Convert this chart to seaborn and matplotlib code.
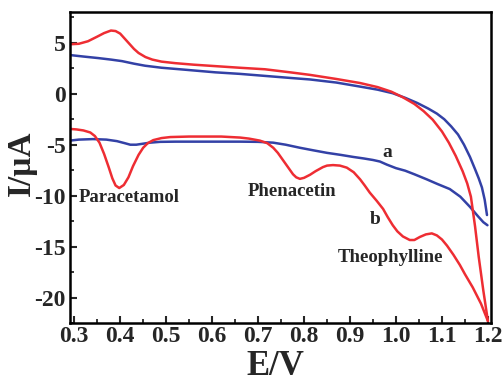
#%% bibliotecas
import pandas as pd
import seaborn as sns
import matplotlib.pyplot as plt
from matplotlib.ticker import MultipleLocator

#%% dados lidos do voltamograma (E em V, I em uA)
# curva a (azul) - varredura de ida e de volta
a_fwd_E = [0.29, 0.32, 0.352, 0.38, 0.404, 0.43, 0.454, 0.49, 0.535, 0.607,
           0.66, 0.715, 0.77, 0.813, 0.87, 0.922, 0.96, 0.993, 1.02, 1.046,
           1.07, 1.089, 1.105, 1.12, 1.135, 1.148, 1.161, 1.172, 1.18, 1.187,
           1.193, 1.198]
a_fwd_I = [3.8, 3.65, 3.5, 3.35, 3.2, 2.95, 2.75, 2.55, 2.38, 2.1,
           1.95, 1.75, 1.55, 1.4, 1.1, 0.7, 0.4, 0.05, -0.4, -0.9,
           -1.45, -1.95, -2.5, -3.2, -4.0, -5.0, -6.2, -7.4, -8.3, -9.2,
           -10.4, -11.9]
a_rev_E = [1.199, 1.19, 1.178, 1.161, 1.14, 1.117, 1.09, 1.067, 1.04, 1.02,
           1.0, 0.98, 0.965, 0.95, 0.93, 0.907, 0.88, 0.85, 0.82, 0.791,
           0.76, 0.733, 0.70, 0.661, 0.6, 0.559, 0.52, 0.487, 0.465, 0.45,
           0.435, 0.422, 0.41, 0.393, 0.37, 0.341, 0.31, 0.29]
a_rev_I = [-12.9, -12.6, -12.0, -11.1, -10.1, -9.35, -8.85, -8.4, -7.9, -7.55,
           -7.3, -6.95, -6.65, -6.5, -6.35, -6.2, -6.0, -5.8, -5.55, -5.3,
           -5.0, -4.8, -4.72, -4.7, -4.7, -4.7, -4.7, -4.72, -4.8, -4.9,
           -5.0, -5.0, -4.85, -4.65, -4.5, -4.45, -4.5, -4.6]

# curva b (vermelha)
b_fwd_E = [0.29, 0.31, 0.33, 0.35, 0.365, 0.38, 0.39, 0.40, 0.41, 0.42,
           0.43, 0.44, 0.455, 0.47, 0.49, 0.52, 0.56, 0.61, 0.66, 0.715,
           0.77, 0.813, 0.87, 0.922, 0.96, 0.99, 1.015, 1.04, 1.06, 1.08,
           1.10, 1.115, 1.13, 1.145, 1.155, 1.163, 1.172, 1.18, 1.19, 1.2]
b_fwd_I = [4.85, 4.9, 5.15, 5.6, 5.95, 6.2, 6.15, 5.9, 5.4, 4.9,
           4.4, 4.0, 3.6, 3.35, 3.15, 3.0, 2.85, 2.7, 2.55, 2.4,
           2.1, 1.85, 1.45, 1.05, 0.65, 0.2, -0.35, -1.0, -1.7, -2.55,
           -3.7, -4.8, -6.1, -7.6, -8.8, -10.1, -13.0, -16.0, -19.3, -22.3]
b_rev_E = [1.2, 1.185, 1.167, 1.15, 1.139, 1.125, 1.111, 1.1, 1.089, 1.078,
           1.065, 1.052, 1.04, 1.03, 1.015, 1.003, 0.993, 0.982, 0.972, 0.958,
           0.943, 0.932, 0.922, 0.908, 0.893, 0.878, 0.863, 0.85, 0.841, 0.825,
           0.813, 0.8, 0.791, 0.783, 0.776, 0.765, 0.754, 0.743, 0.733, 0.72,
           0.704, 0.68, 0.661, 0.62, 0.589, 0.55, 0.509, 0.49, 0.472, 0.46,
           0.45, 0.44, 0.428, 0.418, 0.408, 0.398, 0.39, 0.383, 0.375, 0.365,
           0.355, 0.345, 0.335, 0.32, 0.305, 0.29]
b_rev_I = [-22.3, -20.6, -19.0, -17.7, -16.8, -15.8, -14.9, -14.3, -13.9, -13.7,
           -13.8, -14.05, -14.35, -14.35, -14.0, -13.5, -12.9, -12.1, -11.3, -10.5,
           -9.7, -9.0, -8.4, -7.7, -7.25, -7.05, -7.0, -7.05, -7.2, -7.6,
           -7.95, -8.25, -8.35, -8.2, -7.9, -7.2, -6.5, -5.8, -5.3, -4.85,
           -4.6, -4.4, -4.3, -4.2, -4.2, -4.2, -4.25, -4.35, -4.55, -4.85,
           -5.3, -6.0, -7.1, -8.2, -8.95, -9.25, -9.0, -8.3, -7.2, -5.9,
           -4.8, -4.15, -3.8, -3.6, -3.5, -3.45]

x_ticks = [0.3, 0.4, 0.5, 0.6, 0.7, 0.8, 0.9, 1.0, 1.1, 1.2]
y_ticks = [5, 0, -5, -10, -15, -20]

#%% montar DataFrame
partes = []
for curva, ramo, E, I in [('a', 'a_fwd', a_fwd_E, a_fwd_I),
                          ('a', 'a_rev', a_rev_E, a_rev_I),
                          ('b', 'b_fwd', b_fwd_E, b_fwd_I),
                          ('b', 'b_rev', b_rev_E, b_rev_I)]:
    partes.append(pd.DataFrame({'E': E, 'I': I, 'curva': curva, 'ramo': ramo}))
df = pd.concat(partes, ignore_index=True)

#%% gráfico
sns.set_style('ticks')
plt.rcParams['font.family'] = ['Liberation Serif', 'DejaVu Serif']
plt.rcParams['font.weight'] = 'bold'
plt.rcParams['axes.unicode_minus'] = False

fig = plt.figure(figsize=(5.04, 3.81), dpi=100)
ax = fig.add_axes([0.139, 0.152, 0.835, 0.816])

sns.lineplot(data=df, x='E', y='I', hue='curva', units='ramo', estimator=None,
             sort=False, palette={'a': '#3341a6', 'b': '#ee2d33'},
             linewidth=1.8, legend=False, ax=ax)

ax.set_xlim(0.291, 1.2065)
ax.set_ylim(-22.5, 8.0)
ax.set_xticks(x_ticks)
ax.set_xticklabels([f'{v:.1f}' for v in x_ticks])
ax.set_yticks(y_ticks)
ax.xaxis.set_minor_locator(MultipleLocator(0.05))
ax.yaxis.set_minor_locator(MultipleLocator(2.5))
ax.tick_params(which='major', direction='in', length=5, width=1.5,
               labelsize=17, pad=3)
ax.tick_params(which='minor', direction='in', length=3, width=1.3)
ax.tick_params(axis='x', pad=2)
for lab in ax.get_xticklabels() + ax.get_yticklabels():
    lab.set_fontweight('bold')
for s in ax.spines.values():
    s.set_linewidth(1.8)
    s.set_color('black')

ax.set_xlabel('E/V', fontsize=25, fontweight='bold')
ax.set_ylabel('I/μA', fontsize=24, fontweight='bold')
ax.xaxis.set_label_coords(0.487, -0.085)
ax.yaxis.set_label_coords(-0.08, 0.514)

# rótulos das curvas e dos picos
ax.text(0.980, -5.78, 'a', fontsize=14, fontweight='bold', ha='center', va='center')
ax.text(0.954, -12.35, 'b', fontsize=14, fontweight='bold', ha='center', va='center')
ax.text(0.309, -10.2, 'Paracetamol', fontsize=13.5, fontweight='bold', ha='left', va='center')
ax.text(0.678, -9.6, 'Phenacetin', fontsize=13.5, fontweight='bold', ha='left', va='center')
ax.text(0.874, -16.1, 'Theophylline', fontsize=13.5, fontweight='bold', ha='left', va='center')

fig.savefig('out.png', dpi=100)
